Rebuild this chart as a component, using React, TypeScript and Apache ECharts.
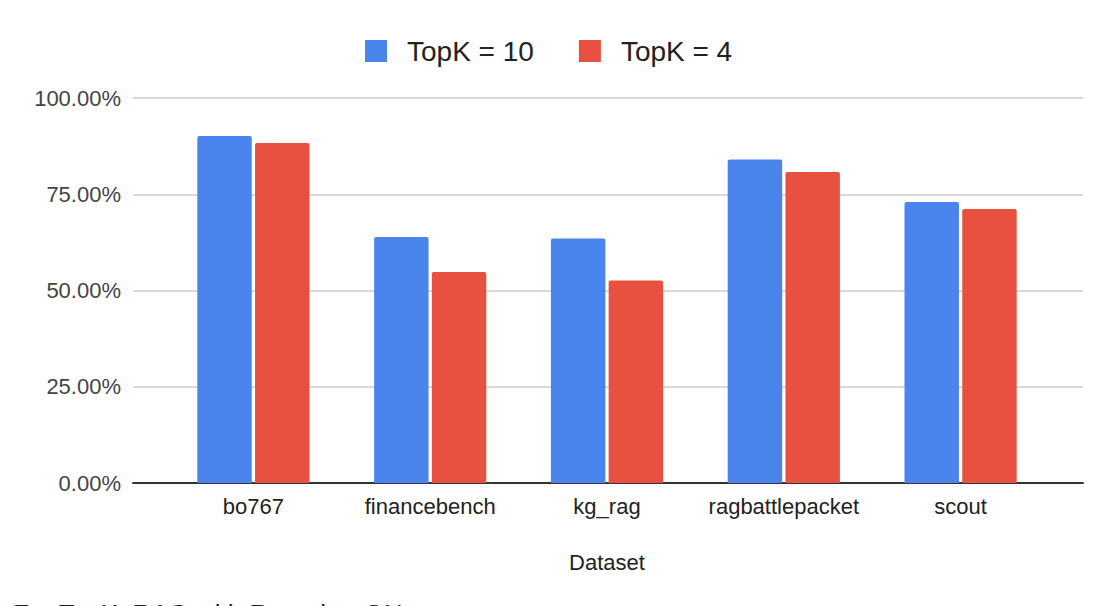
import React, { useEffect, useRef } from "react";
import * as echarts from "echarts";

const categories = ["bo767", "financebench", "kg_rag", "ragbattlepacket", "scout"];
const topK10 = [90.1, 63.9, 63.5, 84.0, 73.0];
const topK4 = [88.3, 54.8, 52.6, 80.8, 71.2];
const seriesNames = ["TopK = 10", "TopK = 4"];
const yTicks = [0, 25, 50, 75, 100];
const footerText = "For TopK, RAG with Reranker ON";

const FONT = "'Liberation Sans', Arial, sans-serif";

export default function App() {
  const ref = useRef<HTMLDivElement>(null);
  useEffect(() => {
    document.body.style.margin = "0";
    if (!ref.current) return;
    const chart = echarts.init(ref.current, undefined, { renderer: "svg" });
    chart.setOption({
      animation: false,
      backgroundColor: "#ffffff",
      textStyle: { fontFamily: FONT },
      legend: {
        top: 37,
        left: 365,
        padding: 0,
        icon: "rect",
        itemWidth: 22,
        itemHeight: 22,
        itemGap: 45,
        textStyle: { fontSize: 28, color: "#222", fontFamily: FONT, padding: [0, 0, 0, 15] },
        data: seriesNames,
      },
      grid: [
        { left: 133, right: 24, top: 98, bottom: 123 },
        { left: 165, right: 58, top: 98, bottom: 123 },
      ],
      xAxis: [
        {
          type: "category",
          gridIndex: 0,
          data: categories,
          axisLine: { show: true, lineStyle: { color: "#333", width: 2 } },
          axisTick: { show: false },
          axisLabel: { show: false },
          splitLine: { show: false },
        },
        {
          type: "category",
          gridIndex: 1,
          data: categories,
          axisLine: { show: false },
          axisTick: { show: false },
          axisLabel: { interval: 0, fontSize: 22, color: "#222", margin: 12, fontFamily: FONT },
          name: "Dataset",
          nameLocation: "middle",
          nameGap: 68,
          nameTextStyle: { fontSize: 22, color: "#222", fontFamily: FONT },
        },
      ],
      yAxis: [
        {
          type: "value",
          gridIndex: 0,
          min: yTicks[0],
          max: yTicks[yTicks.length - 1],
          interval: 25,
          axisLine: { show: false },
          axisTick: { show: false },
          axisLabel: {
            fontSize: 22,
            color: "#444",
            margin: 12,
            fontFamily: FONT,
            formatter: (v: number) => v.toFixed(2) + "%",
          },
          splitLine: { lineStyle: { color: "#cccccc", width: 1.5 } },
        },
        {
          type: "value",
          gridIndex: 1,
          min: yTicks[0],
          max: yTicks[yTicks.length - 1],
          interval: 25,
          show: false,
          splitLine: { show: false },
        },
      ],
      series: [
        {
          name: seriesNames[0],
          type: "bar",
          xAxisIndex: 1,
          yAxisIndex: 1,
          data: topK10,
          barWidth: "30.8%",
          barGap: "6%",
          itemStyle: { color: "#4a85ee", borderRadius: [2, 2, 0, 0] },
        },
        {
          name: seriesNames[1],
          type: "bar",
          xAxisIndex: 1,
          yAxisIndex: 1,
          data: topK4,
          barWidth: "30.8%",
          barGap: "6%",
          itemStyle: { color: "#e8513f", borderRadius: [2, 2, 0, 0] },
        },
      ],
      graphic: [
        {
          type: "text",
          left: 13,
          top: 600.5,
          style: { text: footerText, fontSize: 26, fill: "#222", fontFamily: FONT },
        },
      ],
    });
    return () => chart.dispose();
  }, []);
  return <div ref={ref} style={{ width: 1107, height: 606 }} />;
}
